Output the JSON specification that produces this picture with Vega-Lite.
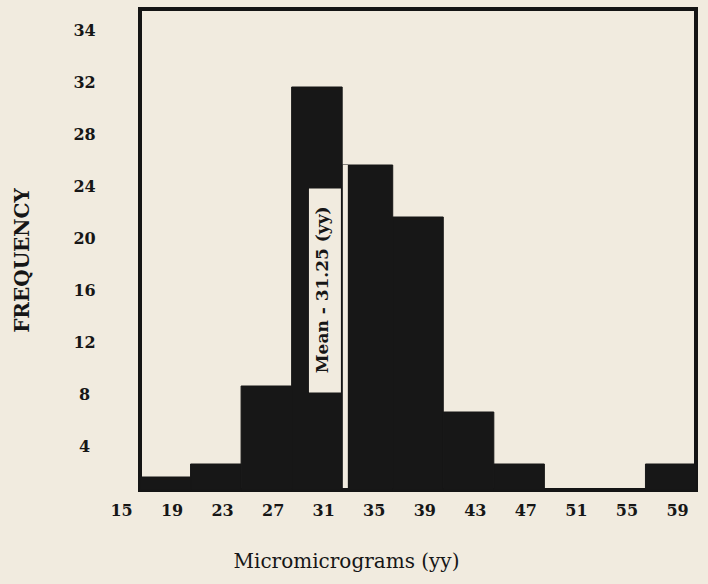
{
  "$schema": "https://vega.github.io/schema/vega-lite/v6.json",
  "autosize": "none",
  "width": 556,
  "height": 481,
  "padding": {"left": 140, "top": 9, "right": 12, "bottom": 94},
  "background": "#f1ebdf",
  "config": {
    "view": {"stroke": "#141414", "strokeWidth": 4, "fill": "#f1ebdf"},
    "axis": {"grid": false, "domain": false, "ticks": false, "tickSize": 0, "labelColor": "#161616", "titleColor": "#161616"}
  },
  "datasets": {
    "bins": [
      {"lower": 15, "upper": 19, "frequency": 1},
      {"lower": 19, "upper": 23, "frequency": 2},
      {"lower": 23, "upper": 27, "frequency": 8},
      {"lower": 27, "upper": 31, "frequency": 31},
      {"lower": 31, "upper": 35, "frequency": 25},
      {"lower": 35, "upper": 39, "frequency": 21},
      {"lower": 39, "upper": 43, "frequency": 6},
      {"lower": 43, "upper": 47, "frequency": 2},
      {"lower": 47, "upper": 51, "frequency": 0},
      {"lower": 51, "upper": 55, "frequency": 0},
      {"lower": 55, "upper": 59, "frequency": 2}
    ],
    "mean": [
      {"mean": 31.25, "label": "Mean - 31.25 (yy)"}
    ]
  },
  "layer": [
    {
      "data": {"name": "bins"},
      "mark": {"type": "bar", "color": "#171717", "stroke": "#171717", "strokeWidth": 1},
      "encoding": {
        "x": {
          "field": "lower", "type": "quantitative",
          "scale": {"domain": [15, 59], "nice": false, "zero": false},
          "axis": {
            "values": [15, 19, 23, 27, 31, 35, 39, 43, 47, 51, 55, 59],
            "labelFlush": false,
            "labelFont": "DejaVu Serif", "labelFontWeight": "bold", "labelFontSize": 16,
            "labelOffset": -19, "labelPadding": 12,
            "title": "Micromicrograms (yy)",
            "titleFont": "DejaVu Serif", "titleFontWeight": "normal", "titleFontSize": 20,
            "titleX": 206, "titleY": 77, "titleBaseline": "alphabetic"
          }
        },
        "x2": {"field": "upper"},
        "y": {
          "field": "frequency", "type": "quantitative",
          "scale": {"domain": [0, 37], "nice": false},
          "axis": {
            "values": [4, 8, 12, 16, 20, 24, 28, 32, 36],
            "labelExpr": "datum.value == 36 ? '34' : datum.label",
            "labelFont": "DejaVu Serif", "labelFontWeight": "bold", "labelFontSize": 16,
            "labelAlign": "center", "labelPadding": 56, "labelOffset": 8,
            "title": "FREQUENCY",
            "titleFont": "DejaVu Serif", "titleFontWeight": "bold", "titleFontSize": 20,
            "titleAngle": 270, "titleX": -112, "titleY": 251, "titleBaseline": "alphabetic", "titleAlign": "center"
          }
        },
        "y2": {"datum": 0}
      }
    },
    {
      "data": {"name": "mean"},
      "mark": {"type": "rule", "color": "#f1ebdf", "strokeWidth": 5},
      "encoding": {
        "x": {"field": "mean", "type": "quantitative"},
        "y": {"datum": 0.15},
        "y2": {"datum": 25}
      }
    },
    {
      "data": {"name": "mean"},
      "mark": {"type": "rect", "fill": "#f1ebdf", "stroke": null},
      "encoding": {
        "x": {"datum": 28.37},
        "x2": {"datum": 30.9},
        "y": {"datum": 7.5},
        "y2": {"datum": 23.2}
      }
    },
    {
      "data": {"name": "mean"},
      "mark": {"type": "text", "angle": 270, "font": "DejaVu Serif", "fontWeight": "bold", "fontSize": 17, "color": "#161616", "align": "center", "baseline": "middle"},
      "encoding": {
        "text": {"field": "label"},
        "x": {"datum": 29.45},
        "y": {"datum": 15.4}
      }
    }
  ]
}
